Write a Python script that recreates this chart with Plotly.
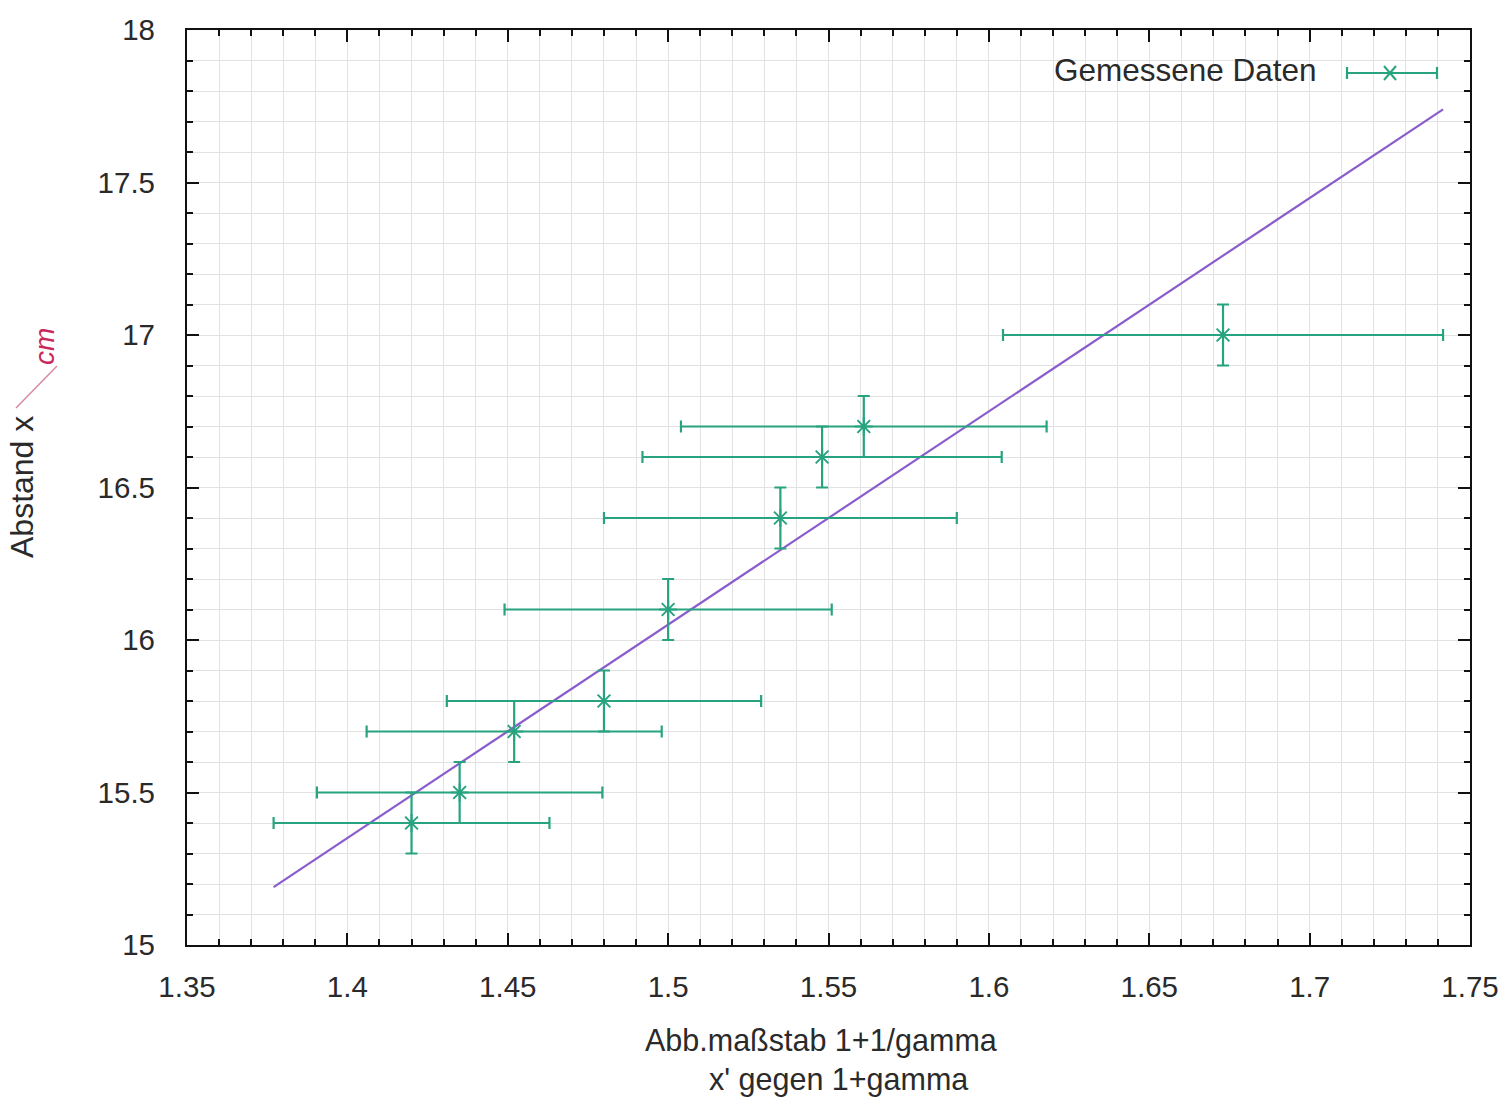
import plotly.graph_objects as go

x_vals = [1.420, 1.435, 1.452, 1.480, 1.500, 1.535, 1.548, 1.561, 1.673]
y_vals = [15.4, 15.5, 15.7, 15.8, 16.1, 16.4, 16.6, 16.7, 17.0]
x_err = [0.043, 0.0445, 0.046, 0.049, 0.051, 0.055, 0.056, 0.057, 0.0686]
y_err = [0.1, 0.1, 0.1, 0.1, 0.1, 0.1, 0.1, 0.1, 0.1]

# Fit line end points
fit_x = [1.377, 1.7416]
fit_y = [15.19, 17.74]

legend_label = "Gemessene Daten"
x_title = "Abb.maßstab 1+1/gamma"
x_subtitle = "x' gegen 1+gamma"
y_title = "Abstand x"

TEAL = "#27a37f"
PURPLE = "#8a5ccc"
FONT = "Liberation Sans, Arial, sans-serif"
TXT = "#2a2a2a"

W, H = 1511, 1097
L, R, T, B = 187, 41, 30, 152
PW, PH = W - L - R, H - T - B


def px(xp):
    return (xp - L) / PW


def py(yp):
    return (H - B - yp) / PH


fig = go.Figure()

fig.add_trace(go.Scatter(
    x=fit_x, y=fit_y, mode="lines",
    line=dict(color=PURPLE, width=2.2),
    showlegend=False, hoverinfo="skip",
))

fig.add_trace(go.Scatter(
    x=x_vals, y=y_vals, mode="markers",
    marker=dict(symbol="asterisk-open", size=15, color=TEAL,
                line=dict(color=TEAL, width=2)),
    error_x=dict(type="data", array=x_err, visible=True,
                 color=TEAL, thickness=2.2, width=6),
    error_y=dict(type="data", array=y_err, visible=True,
                 color=TEAL, thickness=2.2, width=6),
    name=legend_label, showlegend=False,
))

grid_col = "#e2e2e2"
axis_common = dict(
    showline=True, linecolor="#111111", linewidth=2.2, mirror="allticks",
    ticks="inside", ticklen=12, tickwidth=2, tickcolor="#111111",
    showgrid=True, gridcolor=grid_col, gridwidth=1.3,
    zeroline=False,
    tickfont=dict(family=FONT, size=29.5, color=TXT),
)

fig.update_xaxes(
    range=[1.35, 1.75], tick0=1.35, dtick=0.05,
    minor=dict(dtick=0.01, ticks="inside", ticklen=6, tickwidth=1.6,
               tickcolor="#111111", showgrid=True, gridcolor=grid_col,
               gridwidth=1.3),
    ticklabelstandoff=14,
    **axis_common,
)
fig.update_yaxes(
    range=[15, 18], tick0=15, dtick=0.5,
    minor=dict(dtick=0.1, ticks="inside", ticklen=6, tickwidth=1.6,
               tickcolor="#111111", showgrid=True, gridcolor=grid_col,
               gridwidth=1.3),
    ticklabelstandoff=24,
    **axis_common,
)

annotations = [
    dict(text=x_title, x=px(821), y=py(1040), xref="paper", yref="paper",
         showarrow=False, xanchor="center", yanchor="middle", borderpad=0,
         font=dict(family=FONT, size=30.5, color=TXT)),
    dict(text=x_subtitle, x=px(838), y=py(1079), xref="paper", yref="paper",
         showarrow=False, xanchor="center", yanchor="middle", borderpad=0,
         font=dict(family=FONT, size=30.5, color=TXT)),
    dict(text=y_title, x=px(22), y=py(487), xref="paper", yref="paper",
         showarrow=False, xanchor="center", yanchor="middle", textangle=-90,
         font=dict(family=FONT, size=32, color=TXT)),
    dict(text="<i>cm</i>", x=px(44), y=py(347), xref="paper", yref="paper",
         showarrow=False, xanchor="center", yanchor="middle", textangle=-90,
         font=dict(family=FONT, size=28, color="#c8285a")),
    dict(text=legend_label, x=px(1319), y=py(70), xref="paper", yref="paper",
         showarrow=False, xanchor="right", yanchor="middle",
         font=dict(family=FONT, size=31.5, color=TXT)),
]

# custom legend sample (line with caps and asterisk)
lx0, lx1, lxm, ly = 1347, 1437, 1390, 73
shapes = [
    dict(type="line", xref="paper", yref="paper", x0=px(lx0), x1=px(lx1),
         y0=py(ly), y1=py(ly), line=dict(color=TEAL, width=2.2)),
    dict(type="line", xref="paper", yref="paper", x0=px(lx0), x1=px(lx0),
         y0=py(ly - 6), y1=py(ly + 6), line=dict(color=TEAL, width=2.2)),
    dict(type="line", xref="paper", yref="paper", x0=px(lx1), x1=px(lx1),
         y0=py(ly - 6), y1=py(ly + 6), line=dict(color=TEAL, width=2.2)),
    dict(type="line", xref="paper", yref="paper", x0=px(lxm - 6), x1=px(lxm + 6),
         y0=py(ly - 7), y1=py(ly + 7), line=dict(color=TEAL, width=2)),
    dict(type="line", xref="paper", yref="paper", x0=px(lxm - 6), x1=px(lxm + 6),
         y0=py(ly + 7), y1=py(ly - 7), line=dict(color=TEAL, width=2)),
    # handwritten slash next to the y label
    dict(type="line", xref="paper", yref="paper", x0=px(16), x1=px(57),
         y0=py(408), y1=py(366), line=dict(color="#d88aa0", width=1.5)),
]

fig.update_layout(
    width=W, height=H, autosize=False,
    margin=dict(l=L, r=R, t=T, b=B),
    paper_bgcolor="white", plot_bgcolor="white",
    showlegend=False,
    annotations=annotations, shapes=shapes,
    font=dict(family=FONT, color=TXT),
)

fig.write_html("out.html")
